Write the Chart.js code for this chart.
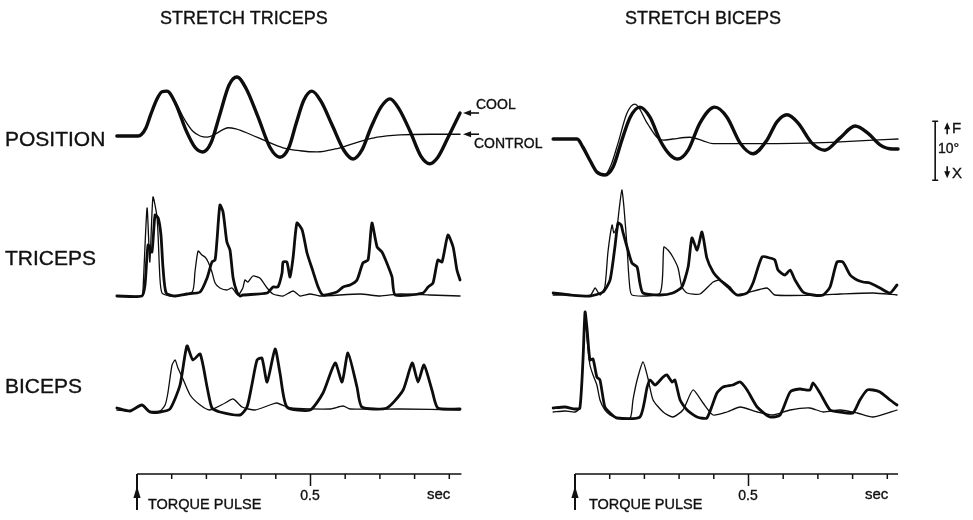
<!DOCTYPE html>
<html>
<head>
<meta charset="utf-8">
<script src="https://cdn.jsdelivr.net/npm/chart.js@4/dist/chart.umd.min.js"></script>
<style>
  body { margin: 0; background: #fff; }
  #page { position: relative; width: 973px; height: 520px; overflow: hidden; }
  canvas { position: absolute; left: 0; top: 0; }
  .lbl { position: absolute; font-family: "Liberation Sans", Arial, sans-serif; color: #111; line-height: 1; white-space: nowrap; -webkit-text-stroke: 0.35px #111; }
  .ctr { text-align: center; width: 40px; }
</style>
</head>
<body>
<div id="page">
  <canvas id="leftPanel" width="973" height="520"></canvas>
  <canvas id="rightPanel" width="973" height="520"></canvas>

  <div class="lbl" style="left:160px;top:9px;font-size:18px;">STRETCH TRICEPS</div>
  <div class="lbl" style="left:625px;top:9px;font-size:18px;">STRETCH BICEPS</div>

  <div class="lbl" style="left:5px;top:128px;font-size:21px;">POSITION</div>
  <div class="lbl" style="left:5px;top:247px;font-size:21px;">TRICEPS</div>
  <div class="lbl" style="left:5px;top:375px;font-size:21px;">BICEPS</div>

  <div class="lbl" style="left:476px;top:97px;font-size:14px;">COOL</div>
  <div class="lbl" style="left:474px;top:136px;font-size:14px;">CONTROL</div>

  <div class="lbl" style="left:952px;top:120px;font-size:15px;">F</div>
  <div class="lbl" style="left:938px;top:141px;font-size:14px;">10°</div>
  <div class="lbl" style="left:952px;top:165px;font-size:15px;">X</div>

  <div class="lbl ctr" style="left:290px;top:488px;font-size:14px;">0.5</div>
  <div class="lbl" style="left:427px;top:486px;font-size:15px;">sec</div>
  <div class="lbl" style="left:148px;top:497px;font-size:14.5px;">TORQUE PULSE</div>

  <div class="lbl ctr" style="left:728px;top:488px;font-size:14px;">0.5</div>
  <div class="lbl" style="left:865px;top:486px;font-size:15px;">sec</div>
  <div class="lbl" style="left:589px;top:497px;font-size:14.5px;">TORQUE PULSE</div>
</div>

<script>
// Tremor after a torque pulse - cool vs control, time in ms after the pulse

// time axis
const timeTicks = [0, 100, 200, 300, 400, 500, 600, 700, 800, 900];
const labelTick = 500;

// position (deg, flexion up)
const leftPosCool = [[-58,0],[3,0],[12,0.2],[26,1.4],[40,3.7],[58,6.3],[72,7.5],[86,7.6],[112,5.4],[141,1.0],[167,-1.9],[190,-2.7],[213,-1.2],[239,3.7],[265,8.6],[288,10.0],[314,8.1],[349,3.2],[383,-1.9],[412,-3.6],[438,-1.9],[458,2.0],[481,6.1],[504,7.6],[530,5.9],[562,1.9],[597,-2.5],[623,-3.9],[648,-2.4],[674,1.4],[703,4.9],[729,6.3],[755,4.6],[787,0.8],[818,-3.4],[844,-4.7],[867,-3.6],[896,-0.3],[931,3.9]];
const leftPosControl = [[-58,0],[3,0],[12,0.2],[26,1.4],[40,3.7],[58,6.3],[72,7.5],[86,7.6],[112,5.6],[138,2.7],[161,0.8],[182,0],[202,-0.2],[225,0.3],[245,1.0],[262,1.4],[285,1.2],[326,0.3],[369,-0.8],[421,-2.0],[470,-2.5],[519,-2.7],[571,-2.2],[628,-1.2],[692,-0.2],[758,0.2],[844,0.3],[931,0.3]];
const rightPosCool = [[-63,0],[6,0],[23,-1.4],[43,-3.6],[63,-5.6],[86,-6.1],[110,-4.7],[135,-0.2],[159,3.7],[187,5.4],[216,3.7],[245,-0.2],[274,-2.7],[297,-3.4],[326,-1.9],[360,2.7],[403,5.4],[438,3.7],[476,-0.7],[513,-2.5],[553,-0.2],[582,2.9],[611,4.1],[643,2.7],[683,-0.7],[720,-1.9],[764,0.2],[807,2.2],[844,1.0],[879,-1.0],[916,-1.7],[931,-1.7]];
const rightPosControl = [[-63,0],[6,0],[23,-1.4],[43,-3.6],[63,-5.6],[86,-6.1],[104,-4.4],[124,-0.7],[150,4.4],[173,5.9],[208,2.7],[236,0.3],[254,-0.2],[282,0],[331,0.3],[369,-0.3],[398,-0.8],[476,-0.8],[669,-0.7],[764,-0.5],[859,-0.2],[931,0]];

// triceps EMG (arbitrary units)
const leftTriCool = [[-58,0],[14,0],[23,11],[32,51],[43,44],[52,81],[61,78],[69,61],[75,28],[84,3],[110,0],[144,2],[182,4],[202,18],[216,34],[225,36],[231,58],[239,91],[248,84],[259,54],[268,46],[277,18],[288,4],[297,0],[305,1],[375,3],[392,9],[406,9],[418,23],[421,34],[432,34],[441,19],[450,39],[461,73],[476,66],[490,43],[504,28],[522,9],[536,1],[576,4],[594,9],[614,11],[634,16],[651,33],[666,36],[677,73],[692,49],[706,44],[720,33],[735,19],[744,1],[824,3],[839,9],[853,13],[867,36],[879,34],[896,61],[911,49],[922,26],[931,16]];
const leftTriControl = [[-58,0],[14,0],[17,4],[29,88],[37,34],[46,99],[58,78],[66,18],[72,3],[95,0],[159,4],[167,24],[176,45],[187,41],[196,39],[205,34],[216,24],[225,13],[239,8],[259,6],[274,8],[291,1],[305,8],[311,16],[320,14],[334,20],[354,18],[375,8],[392,2],[421,0],[450,5],[470,0],[499,2],[527,0],[643,2],[700,0],[758,2],[844,1],[931,0]];
const rightTriCool = [[-63,2],[-14,0],[43,-1],[81,3],[101,15],[115,48],[124,72],[133,70],[138,63],[150,48],[164,32],[179,28],[187,12],[196,2],[245,0],[282,2],[308,8],[326,28],[337,57],[352,45],[366,63],[380,37],[398,23],[418,15],[441,8],[467,0],[496,2],[513,12],[539,38],[562,37],[576,35],[585,25],[605,20],[620,25],[634,15],[657,3],[686,0],[715,0],[735,8],[755,33],[772,33],[793,20],[813,15],[830,13],[850,12],[879,7],[908,2],[928,10]];
const rightTriControl = [[-63,0],[-14,0],[43,-1],[58,7],[72,0],[86,8],[95,43],[107,70],[112,62],[121,68],[127,85],[135,105],[141,88],[150,48],[156,15],[164,0],[245,2],[256,48],[268,45],[282,38],[297,27],[308,8],[323,2],[360,1],[398,13],[418,15],[447,8],[467,0],[553,7],[576,0],[706,0],[764,1],[859,2],[928,0]];

// biceps EMG (arbitrary units)
const leftBicCool = [[-58,2],[-20,-1],[14,5],[37,-2],[66,-2],[95,1],[124,25],[144,64],[161,50],[182,56],[202,23],[216,2],[239,-2],[297,-5],[317,3],[331,25],[346,50],[360,52],[375,28],[398,61],[412,37],[432,3],[499,0],[536,17],[571,47],[591,28],[608,57],[634,23],[648,3],[720,2],[767,20],[793,47],[810,28],[827,45],[850,20],[867,2],[931,1]];
const leftBicControl = [[-58,0],[-20,-1],[14,5],[37,-1],[66,-1],[81,5],[89,17],[101,45],[110,50],[118,42],[130,33],[153,15],[182,5],[210,0],[254,7],[277,11],[303,3],[340,0],[383,5],[403,7],[441,2],[556,1],[594,4],[614,1],[758,1],[931,0]];
const rightBicCool = [[-63,2],[-29,3],[0,1],[14,2],[23,50],[29,98],[35,80],[43,50],[52,51],[63,33],[72,30],[86,3],[101,-3],[121,-8],[187,-7],[208,23],[216,30],[231,25],[254,33],[265,35],[280,28],[288,30],[303,10],[323,0],[352,-7],[380,-8],[409,17],[427,23],[455,25],[476,28],[496,20],[525,3],[562,-7],[591,-5],[620,18],[648,21],[677,20],[686,27],[706,17],[735,0],[764,-2],[801,-3],[821,10],[842,20],[859,20],[879,18],[908,10],[928,5]];
const rightBicControl = [[-63,-2],[-29,-1],[0,-2],[14,2],[23,50],[29,95],[35,70],[43,45],[52,35],[63,25],[72,10],[86,0],[101,-5],[121,-8],[159,-8],[167,10],[179,30],[196,48],[210,32],[225,10],[254,-2],[282,-7],[311,0],[340,20],[369,7],[398,-5],[438,-2],[476,3],[525,-2],[571,-5],[620,0],[677,2],[715,-2],[764,0],[813,-3],[859,-7],[928,0]];

// 10 deg calibration bar (deg)
const scaleBarDeg = [3, -7];

// layout
const AREA_TOP = 40, AREA_BOTTOM = 474;
const PX_PER_DEG = 5.9, PX_PER_UNIT = 1;

function bandAxis(basePx, pxPerUnit) {
    return {
        type: 'linear', display: false,
        min: -(AREA_BOTTOM - basePx) / pxPerUnit,
        max: (basePx - AREA_TOP) / pxPerUnit
    };
}

function pts(arr) {
    return arr.map(p => ({ x: p[0], y: p[1] }));
}

function trace(arr, axis, cool, smooth) {
    return {
        data: pts(arr),
        yAxisID: axis,
        borderColor: '#0d0d0d',
        borderWidth: cool ? (smooth ? 3.4 : 2.8) : 1.3,
        borderJoinStyle: 'round',
        borderCapStyle: 'round',
        pointRadius: 0,
        tension: smooth ? 0 : 0.2,
        cubicInterpolationMode: smooth ? 'monotone' : 'default',
        fill: false
    };
}

// draws the time axis, torque pulse arrow and side marks
const traceDecor = {
    id: 'traceDecor',
    afterDraw(chart, args, opts) {
        const ctx = chart.ctx;
        const x = chart.scales.x;
        const yPos = chart.scales.yPos;
        const yB = chart.chartArea.bottom;
        ctx.save();
        ctx.strokeStyle = '#111';
        ctx.fillStyle = '#111';

        ctx.lineWidth = 1.5;
        ctx.beginPath();
        ctx.moveTo(x.getPixelForValue(0), yB);
        ctx.lineTo(x.getPixelForValue(opts.axisEnd), yB);
        timeTicks.forEach(t => {
            const px = x.getPixelForValue(t);
            ctx.moveTo(px, yB);
            ctx.lineTo(px, yB + (t === labelTick ? 12 : 5));
        });
        ctx.stroke();

        // torque pulse
        const p0 = x.getPixelForValue(0);
        ctx.lineWidth = 2;
        ctx.beginPath();
        ctx.moveTo(p0, yB);
        ctx.lineTo(p0, yB + 36);
        ctx.stroke();
        ctx.beginPath();
        ctx.moveTo(p0, yB + 12);
        ctx.lineTo(p0 - 3.6, yB + 24);
        ctx.lineTo(p0 + 3.6, yB + 24);
        ctx.closePath();
        ctx.fill();

        // COOL / CONTROL pointers
        if (opts.pointers) {
            opts.pointers.forEach(series => {
                const last = series[series.length - 1];
                const px = x.getPixelForValue(last[0]) + 3;
                const py = yPos.getPixelForValue(last[1]);
                ctx.lineWidth = 1.6;
                ctx.beginPath();
                ctx.moveTo(px + 4, py);
                ctx.lineTo(px + 16, py);
                ctx.stroke();
                ctx.beginPath();
                ctx.moveTo(px, py);
                ctx.lineTo(px + 8, py - 3);
                ctx.lineTo(px + 8, py + 3);
                ctx.closePath();
                ctx.fill();
            });
        }

        // calibration bar
        if (opts.scaleBar) {
            const bx = chart.chartArea.right + 34;
            const top = yPos.getPixelForValue(scaleBarDeg[0]);
            const bot = yPos.getPixelForValue(scaleBarDeg[1]);
            ctx.lineWidth = 1.6;
            ctx.beginPath();
            ctx.moveTo(bx, top); ctx.lineTo(bx, bot);
            ctx.moveTo(bx - 3, top); ctx.lineTo(bx + 3, top);
            ctx.moveTo(bx - 3, bot); ctx.lineTo(bx + 3, bot);
            const ax = bx + 12;
            ctx.moveTo(ax, top + 13); ctx.lineTo(ax, top + 4);
            ctx.moveTo(ax, bot - 14); ctx.lineTo(ax, bot - 5);
            ctx.stroke();
            ctx.beginPath();
            ctx.moveTo(ax, top + 1); ctx.lineTo(ax - 3, top + 8); ctx.lineTo(ax + 3, top + 8); ctx.closePath();
            ctx.moveTo(ax, bot - 2); ctx.lineTo(ax - 3, bot - 9); ctx.lineTo(ax + 3, bot - 9); ctx.closePath();
            ctx.fill();
        }
        ctx.restore();
    }
};

function makePanel(canvasId, cfg) {
    const padLeft = cfg.zeroPx - 70 * cfg.pxPerMs;
    const padRight = 973 - (cfg.zeroPx + 940 * cfg.pxPerMs);
    return new Chart(document.getElementById(canvasId), {
        type: 'line',
        data: {
            datasets: [
                trace(cfg.posCool, 'yPos', true, true),
                trace(cfg.posControl, 'yPos', false, true),
                trace(cfg.triCool, 'yTri', true, false),
                trace(cfg.triControl, 'yTri', false, false),
                trace(cfg.bicCool, 'yBic', true, false),
                trace(cfg.bicControl, 'yBic', false, false)
            ]
        },
        options: {
            responsive: false,
            animation: false,
            events: [],
            layout: { padding: { left: padLeft, right: padRight, top: AREA_TOP, bottom: 520 - AREA_BOTTOM } },
            plugins: {
                legend: { display: false },
                tooltip: { enabled: false },
                traceDecor: { axisEnd: cfg.axisEnd, pointers: cfg.pointers, scaleBar: cfg.scaleBar }
            },
            scales: {
                x: { type: 'linear', display: false, min: -70, max: 940 },
                yPos: bandAxis(cfg.posBase, PX_PER_DEG),
                yTri: bandAxis(cfg.triBase, PX_PER_UNIT),
                yBic: bandAxis(cfg.bicBase, PX_PER_UNIT)
            }
        },
        plugins: [traceDecor]
    });
}

makePanel('leftPanel', {
    zeroPx: 137, pxPerMs: 0.347, axisEnd: 935,
    posBase: 136, triBase: 296, bicBase: 410,
    posCool: leftPosCool, posControl: leftPosControl,
    triCool: leftTriCool, triControl: leftTriControl,
    bicCool: leftBicCool, bicControl: leftBicControl,
    pointers: [leftPosCool, leftPosControl], scaleBar: false
});

makePanel('rightPanel', {
    zeroPx: 575, pxPerMs: 0.347, axisEnd: 931,
    posBase: 139, triBase: 295, bicBase: 410,
    posCool: rightPosCool, posControl: rightPosControl,
    triCool: rightTriCool, triControl: rightTriControl,
    bicCool: rightBicCool, bicControl: rightBicControl,
    pointers: null, scaleBar: true
});
</script>
</body>
</html>
